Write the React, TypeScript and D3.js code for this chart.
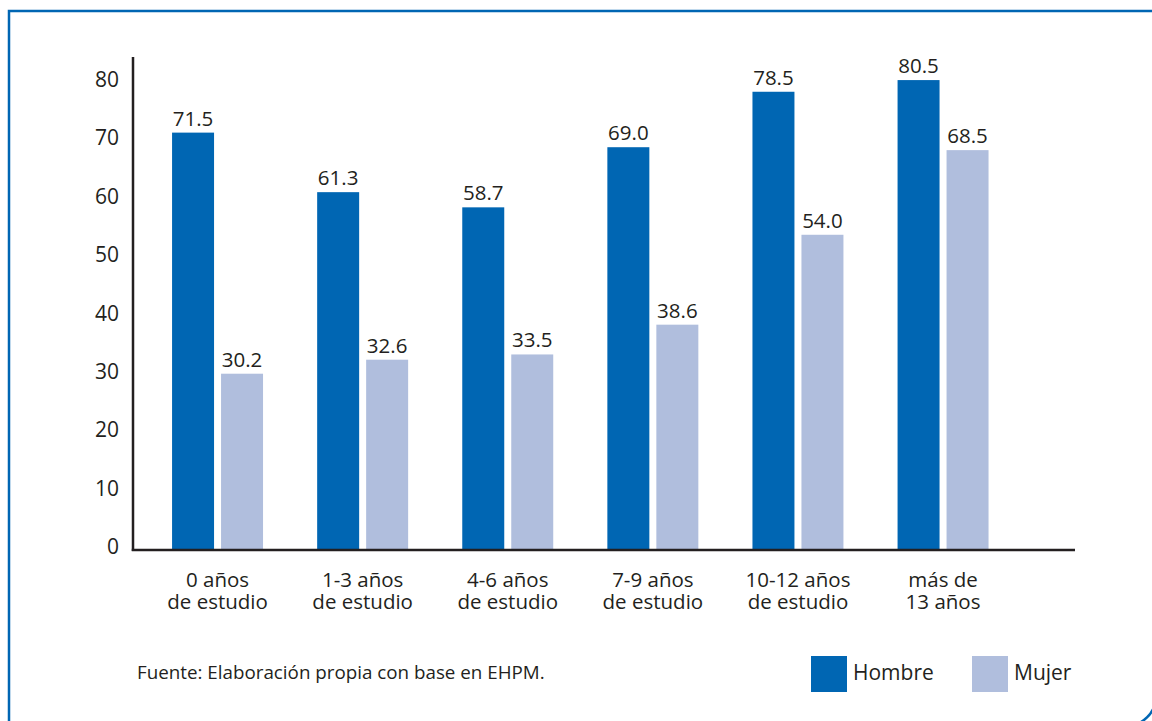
import React from "react";
import * as d3 from "d3";

const categories = [
  ["0 años", "de estudio"],
  ["1-3 años", "de estudio"],
  ["4-6 años", "de estudio"],
  ["7-9 años", "de estudio"],
  ["10-12 años", "de estudio"],
  ["más de", "13 años"],
];
const seriesNames = ["Hombre", "Mujer"];
const hombre = [71.5, 61.3, 58.7, 69.0, 78.5, 80.5];
const mujer = [30.2, 32.6, 33.5, 38.6, 54.0, 68.5];
const yTicks = [0, 10, 20, 30, 40, 50, 60, 70, 80];
const sourceText = "Fuente: Elaboración propia con base en EHPM.";

const COLORS = ["#0066b3", "#b0bedd"];
const TEXT = "#231f20";
const FONT = "'Open Sans', 'Noto Sans', sans-serif";

export default function App() {
  const W = 1152;
  const H = 721;
  const axisX = 133;
  const baseY = 550;
  const axisRight = 1075;

  const keys = categories.map((_, i) => String(i));
  const x0 = d3
    .scaleBand<string>()
    .domain(keys)
    .range([145, 1015.6])
    .paddingInner(0.373)
    .paddingOuter(0.1865);
  const x1 = d3
    .scaleBand<string>()
    .domain(seriesNames)
    .range([0, x0.bandwidth()])
    .paddingInner(1 / 7)
    .paddingOuter(0);
  const y = d3.scaleLinear().domain([0, 80]).range([baseY, 83]);

  const data = [hombre, mujer];

  return (
    <svg
      width={W}
      height={H}
      style={{ position: "absolute", left: 0, top: 0, background: "#fff" }}
      fontFamily={FONT}
    >
      {/* frame */}
      <path
        d="M9,740 V11 H1156 V696 A30,30 0 0 1 1126,726 H9"
        fill="none"
        stroke="#0066b3"
        strokeWidth={2.5}
      />
      {/* y tick labels */}
      {yTicks.map((t) => (
        <text
          key={t}
          x={119}
          y={y(t) - 4}
          textAnchor="end"
          dominantBaseline="central"
          fontSize={21}
          fill={TEXT}
        >
          {t}
        </text>
      ))}
      {/* bars */}
      {keys.map((k, i) => (
        <g key={k} transform={`translate(${x0(k)},0)`}>
          {seriesNames.map((s, j) => {
            const v = data[j][i];
            const bx = x1(s)!;
            return (
              <g key={s}>
                <rect
                  x={bx}
                  y={y(v)}
                  width={x1.bandwidth()}
                  height={baseY - y(v)}
                  fill={COLORS[j]}
                />
                <text
                  x={bx + x1.bandwidth() / 2}
                  y={y(v) - 7}
                  textAnchor="middle"
                  fontSize={20.5}
                  fill={TEXT}
                >
                  {v.toFixed(1)}
                </text>
              </g>
            );
          })}
          <text
            x={x0.bandwidth() / 2}
            y={587}
            textAnchor="middle"
            fontSize={20.5}
            fill={TEXT}
          >
            {categories[i][0]}
          </text>
          <text
            x={x0.bandwidth() / 2}
            y={609}
            textAnchor="middle"
            fontSize={20.5}
            fill={TEXT}
          >
            {categories[i][1]}
          </text>
        </g>
      ))}
      {/* axes */}
      <line x1={axisX} y1={57} x2={axisX} y2={baseY + 1} stroke={TEXT} strokeWidth={2.5} />
      <line x1={axisX - 1.25} y1={baseY} x2={axisRight} y2={baseY} stroke={TEXT} strokeWidth={2.5} />
      {/* source */}
      <text x={137} y={679} fontSize={18.8} fill={TEXT}>
        {sourceText}
      </text>
      {/* legend */}
      {seriesNames.map((s, j) => {
        const lx = [811, 972][j];
        return (
          <g key={s}>
            <rect x={lx} y={656} width={36} height={36} fill={COLORS[j]} />
            <text x={lx + 42} y={680} fontSize={21} fill={TEXT}>
              {s}
            </text>
          </g>
        );
      })}
    </svg>
  );
}
